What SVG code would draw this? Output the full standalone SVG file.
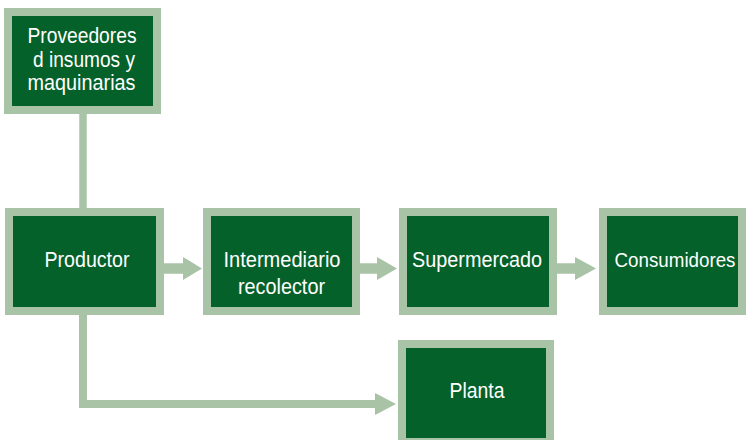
<svg xmlns="http://www.w3.org/2000/svg" width="746" height="440" viewBox="0 0 746 440">
<style>
.box{fill:#05612a;stroke:#a8c3a6;stroke-width:8}
.lbl{font-family:"Liberation Sans",Arial,sans-serif;font-size:22.5px;fill:#ffffff;text-anchor:middle}
.ln{fill:none;stroke:#a8c3a6;stroke-linejoin:miter;stroke-linecap:butt}
.hd{fill:#a8c3a6}
</style>
<rect width="746" height="440" fill="#ffffff"/>
<g id="connectors">
<line class="ln" x1="83" y1="112" x2="83" y2="210" stroke-width="7.5"/>
<line class="ln" x1="162" y1="268.5" x2="184" y2="268.5" stroke-width="10.5"/>
<polygon class="hd" points="183,257 202,268.5 183,280"/>
<line class="ln" x1="358" y1="268.5" x2="378" y2="268.5" stroke-width="10.5"/>
<polygon class="hd" points="377,257 397,268.5 377,280"/>
<line class="ln" x1="555" y1="268.5" x2="576" y2="268.5" stroke-width="10.5"/>
<polygon class="hd" points="575,257 596,268.5 575,280"/>
<polyline class="ln" points="83,313 83,404 376,404" stroke-width="8"/>
<polygon class="hd" points="375,393 396,404 375,415"/>
</g>
<g id="node-proveedores">
<rect class="box" x="8" y="12" width="149" height="98"/>
<text class="lbl" x="82" y="43" textLength="109" lengthAdjust="spacingAndGlyphs">Proveedores</text>
<text class="lbl" x="84" y="67" textLength="102" lengthAdjust="spacingAndGlyphs">d insumos y</text>
<text class="lbl" x="81.5" y="90" textLength="108" lengthAdjust="spacingAndGlyphs">maquinarias</text>
</g>
<g id="node-productor">
<rect class="box" x="9" y="212" width="151" height="99"/>
<text class="lbl" x="87" y="267" textLength="85" lengthAdjust="spacingAndGlyphs">Productor</text>
</g>
<g id="node-intermediario">
<rect class="box" x="207" y="212" width="149" height="99"/>
<text class="lbl" x="282" y="267" textLength="117" lengthAdjust="spacingAndGlyphs">Intermediario</text>
<text class="lbl" x="281.5" y="294" textLength="87" lengthAdjust="spacingAndGlyphs">recolector</text>
</g>
<g id="node-supermercado">
<rect class="box" x="403" y="212" width="150" height="99"/>
<text class="lbl" x="477" y="267" textLength="130" lengthAdjust="spacingAndGlyphs">Supermercado</text>
</g>
<g id="node-consumidores">
<rect class="box" x="603" y="212" width="139" height="99"/>
<text class="lbl" x="675" y="267" style="font-size:20px" textLength="121" lengthAdjust="spacingAndGlyphs">Consumidores</text>
</g>
<g id="node-planta">
<rect class="box" x="402" y="344" width="148" height="98"/>
<text class="lbl" x="477" y="398" textLength="55" lengthAdjust="spacingAndGlyphs">Planta</text>
</g>
</svg>
